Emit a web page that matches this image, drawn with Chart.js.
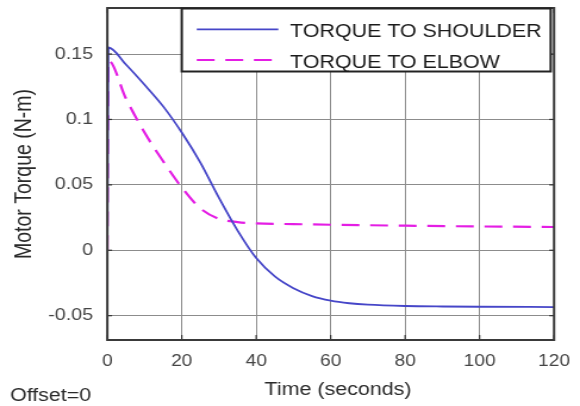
<!DOCTYPE html>
<html>
<head>
<meta charset="utf-8">
<script src="https://cdn.jsdelivr.net/npm/chart.js@4/dist/chart.umd.min.js"></script>
<style>
  html, body { margin: 0; padding: 0; background: #fff; overflow: hidden; }
  #wrap { width: 580px; height: 406px; overflow: hidden; }
  /* the plot is drawn on a narrower canvas and widened to the page */
  #c { display: block; transform: scaleX(1.19097); transform-origin: 0 0; }
</style>
</head>
<body>
<div id="wrap"><canvas id="c" width="487" height="406"></canvas></div>
<script>
// Simulated joint torques over time
const timeShoulder   = [0, 0.3, 5, 10, 15, 20, 25, 30, 35, 40, 45, 50, 55, 60, 65, 70, 80, 90, 100, 120];
const torqueShoulder = [0, 0.155, 0.142, 0.1265, 0.110, 0.090, 0.067, 0.040, 0.015, -0.006, -0.020, -0.029, -0.035, -0.0385, -0.0405, -0.0416, -0.0426, -0.0430, -0.0432, -0.0434];

const timeElbow   = [0, 0.3, 5, 10, 15, 20, 25, 30, 35, 40, 50, 60, 80, 100, 120];
const torqueElbow = [0, 0.145, 0.116, 0.090, 0.068, 0.048, 0.032, 0.024, 0.0215, 0.0205, 0.0200, 0.0195, 0.0188, 0.0182, 0.0178];

const seriesLabels = ['TORQUE TO SHOULDER', 'TORQUE TO ELBOW'];
const xTicks = [0, 20, 40, 60, 80, 100, 120];
const yTicks = [-0.05, 0, 0.05, 0.1, 0.15];
const xRange = [0, 120];
const yRange = [-0.0686, 0.1852];
const xTitle = 'Time (seconds)';
const yTitle = 'Motor Torque (N-m)';
const footnote = 'Offset=0';

const FONT = '"Liberation Sans", Arial, Helvetica, sans-serif';
const toPoints = (xs, ys) => xs.map((t, i) => ({ x: t, y: ys[i] }));

// Box, inward ticks, legend and captions in MATLAB figure style
const figureDecor = {
  id: 'figureDecor',
  afterDraw(chart) {
    const { ctx, chartArea: a, scales: { x, y } } = chart;
    const seg = (x1, y1, x2, y2) => { ctx.beginPath(); ctx.moveTo(x1, y1); ctx.lineTo(x2, y2); ctx.stroke(); };
    ctx.save();

    // inward tick marks on all four sides
    ctx.strokeStyle = '#333';
    ctx.lineWidth = 1.2;
    xTicks.forEach(v => {
      const px = x.getPixelForValue(v);
      seg(px, a.bottom, px, a.bottom - 5);
      seg(px, a.top, px, a.top + 5);
    });
    yTicks.forEach(v => {
      const py = y.getPixelForValue(v);
      seg(a.left, py, a.left + 4, py);
      seg(a.right, py, a.right - 4, py);
    });

    // axes box
    ctx.strokeStyle = '#3a3a3a';
    ctx.lineWidth = 2;
    ctx.strokeRect(a.left, a.top, a.right - a.left, a.bottom - a.top);

    // legend box
    const lx = 152.6, ly = 8.5, lw = 309.8, lh = 63;
    ctx.fillStyle = '#fff';
    ctx.fillRect(lx, ly, lw, lh);
    ctx.strokeStyle = '#222';
    ctx.lineWidth = 2;
    ctx.strokeRect(lx, ly, lw, lh);

    const rows = [{ lineY: 29.3, textY: 37.3 }, { lineY: 60, textY: 68 }];
    chart.data.datasets.forEach((ds, i) => {
      ctx.strokeStyle = ds.borderColor;
      ctx.lineWidth = ds.borderWidth;
      ctx.setLineDash(ds.borderDash || []);
      seg(165.2, rows[i].lineY, 233.7, rows[i].lineY);
      ctx.setLineDash([]);
      ctx.fillStyle = '#1a1a1a';
      ctx.font = '18px ' + FONT;
      ctx.textAlign = 'left';
      ctx.textBaseline = 'alphabetic';
      ctx.fillText(ds.label, 243.5, rows[i].textY);
    });

    // axis titles
    ctx.fillStyle = '#2a2a2a';
    ctx.font = '18px ' + FONT;
    ctx.textAlign = 'center';
    ctx.textBaseline = 'alphabetic';
    ctx.fillText(xTitle, 283.8, 395);

    ctx.save();
    ctx.translate(21, (a.top + a.bottom) / 2);
    ctx.rotate(-Math.PI / 2);
    ctx.font = '19.5px ' + FONT;
    ctx.textBaseline = 'middle';
    ctx.fillText(yTitle, 0, 0);
    ctx.restore();

    // footnote
    ctx.textAlign = 'left';
    ctx.font = '18px ' + FONT;
    ctx.fillText(footnote, 8.4, 401);

    ctx.restore();
  }
};

new Chart(document.getElementById('c'), {
  type: 'line',
  data: {
    datasets: [
      {
        label: seriesLabels[0],
        data: toPoints(timeShoulder, torqueShoulder),
        borderColor: '#4646c8',
        borderWidth: 1.8,
        pointRadius: 0,
        fill: false,
        cubicInterpolationMode: 'monotone'
      },
      {
        label: seriesLabels[1],
        data: toPoints(timeElbow, torqueElbow),
        borderColor: '#e41ee4',
        borderWidth: 2.2,
        borderDash: [15, 9],
        pointRadius: 0,
        fill: false,
        cubicInterpolationMode: 'monotone'
      }
    ]
  },
  options: {
    responsive: false,
    animation: false,
    devicePixelRatio: 1,
    layout: { padding: { top: 8, right: 21.8, left: 0, bottom: 0 } },
    plugins: { legend: { display: false }, tooltip: { enabled: false } },
    scales: {
      x: {
        type: 'linear',
        min: xRange[0],
        max: xRange[1],
        afterBuildTicks: s => { s.ticks = xTicks.map(v => ({ value: v })); },
        afterFit: s => { s.height = 66; s.paddingLeft = 0; s.paddingRight = 0; },
        grid: { color: '#8c8c8c', lineWidth: 1, drawTicks: false },
        border: { display: false },
        ticks: {
          padding: 12,
          color: '#444',
          font: { family: FONT, size: 16 },
          maxRotation: 0,
          callback: v => String(v)
        }
      },
      y: {
        type: 'linear',
        min: yRange[0],
        max: yRange[1],
        afterBuildTicks: s => { s.ticks = yTicks.map(v => ({ value: v })); },
        afterFit: s => { s.width = 90.1; s.paddingTop = 0; s.paddingBottom = 0; },
        grid: { color: '#8c8c8c', lineWidth: 1, drawTicks: false },
        border: { display: false },
        ticks: {
          padding: 12,
          color: '#444',
          font: { family: FONT, size: 16.5 },
          callback: v => String(v)
        }
      }
    }
  },
  plugins: [figureDecor]
});
</script>
</body>
</html>
